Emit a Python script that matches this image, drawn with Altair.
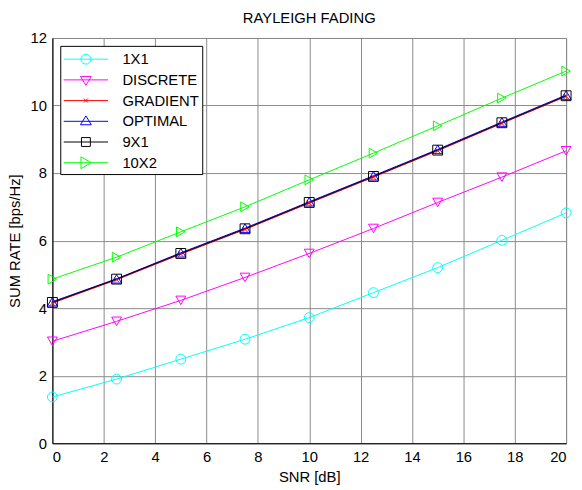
import math
import altair as alt
import pandas as pd

snr = [0, 2.5, 5, 7.5, 10, 12.5, 15, 17.5, 20]
series = ["1X1", "DISCRETE", "GRADIENT", "OPTIMAL", "9X1", "10X2"]
colors = ["#00FFFF", "#FF00FF", "#FF0000", "#0000FF", "#000000", "#00FF00"]

rate_1x1 = [1.37, 1.90, 2.49, 3.08, 3.72, 4.46, 5.20, 6.01, 6.82]
rate_discrete = [3.02, 3.61, 4.23, 4.91, 5.62, 6.36, 7.13, 7.88, 8.66]
rate_gradient = [4.15, 4.84, 5.60, 6.33, 7.11, 7.88, 8.66, 9.47, 10.27]
rate_optimal = [4.19, 4.87, 5.64, 6.37, 7.15, 7.92, 8.70, 9.51, 10.31]
rate_9x1 = [4.17, 4.86, 5.62, 6.35, 7.13, 7.90, 8.68, 9.49, 10.29]
rate_10x2 = [4.86, 5.51, 6.26, 7.00, 7.80, 8.59, 9.40, 10.22, 11.02]

values = [rate_1x1, rate_discrete, rate_gradient, rate_optimal, rate_9x1, rate_10x2]
rows = []
for i, (name, vals) in enumerate(zip(series, values)):
    for x, v in zip(snr, vals):
        rows.append({"snr": x, "rate": v, "series": name, "order": i})
df = pd.DataFrame(rows)

# plot markers, one per series
plot_shapes = ["circle", "triangle-down", "M-0.5,-0.5L0.5,0.5M-0.5,0.5L0.5,-0.5",
               "triangle-up", "square", "triangle-right"]
# legend symbols: line with marker (unit = 10px at size 400), marker centred at cx
cx = 1.25
line = "M-1,0L3.5,0"
circ_pts = [(cx + 0.5 * math.cos(2 * math.pi * k / 16), 0.5 * math.sin(2 * math.pi * k / 16))
            for k in range(16)]
circle_path = "M" + "L".join(f"{a:.3f},{b:.3f}" for a, b in circ_pts) + "Z"


def poly(pts):
    return "M" + "L".join(f"{cx + a:.3f},{b:.3f}" for a, b in pts) + "Z"


legend_shapes = [
    line + circle_path,
    line + poly([(-0.55, -0.35), (0.55, -0.35), (0, 0.55)]),
    line + f"M{cx-0.2:.2f},-0.2L{cx+0.2:.2f},0.2M{cx-0.2:.2f},0.2L{cx+0.2:.2f},-0.2",
    line + poly([(-0.55, 0.35), (0.55, 0.35), (0, -0.55)]),
    line + poly([(-0.45, -0.45), (0.45, -0.45), (0.45, 0.45), (-0.45, 0.45)]),
    line + poly([(-0.5, -0.6), (-0.5, 0.6), (0.55, 0)]),
]

x_enc = alt.X("snr:Q", title="SNR [dB]",
              scale=alt.Scale(domain=[0, 20], nice=False),
              axis=alt.Axis(values=list(range(0, 21, 2)), format="d"))
y_enc = alt.Y("rate:Q", title="SUM RATE [bps/Hz]",
              scale=alt.Scale(domain=[0, 12], nice=False),
              axis=alt.Axis(values=list(range(0, 13, 2)), format="d"))
leg = alt.Legend(title=None, orient="top-left", labelAlign="left")
color_enc = alt.Color("series:N", scale=alt.Scale(domain=series, range=colors), legend=leg)

base = alt.Chart(df)

layers = [
    base.mark_line(strokeWidth=1, clip=True).encode(
        x=x_enc, y=y_enc, color=color_enc, order=alt.Order("snr:Q"),
    )
]
for name, shp in zip(series, plot_shapes):
    layers.append(
        base.transform_filter(alt.datum.series == name)
        .mark_point(filled=False, size=100, strokeWidth=1, opacity=1, shape=shp)
        .encode(x=x_enc, y=y_enc, color=color_enc)
    )

layers.append(
    base.transform_filter("false").mark_point(filled=False, size=400, strokeWidth=1).encode(
        x=x_enc, y=y_enc, color=color_enc,
        shape=alt.Shape("series:N", scale=alt.Scale(domain=series, range=legend_shapes),
                        legend=leg),
    )
)

chart = alt.layer(*layers).properties(
    width=521, height=411,
    title=alt.TitleParams("RAYLEIGH FADING", fontSize=15, fontWeight="normal",
                          font="Liberation Sans", offset=5),
    autosize=alt.AutoSizeParams(type="none"),
    padding={"left": 45, "top": 27, "right": 8, "bottom": 44},
).configure(
    font="Liberation Sans",
).configure_view(
    stroke="#8a8a8a", strokeWidth=1,
).configure_axis(
    domainColor="#000000", domainWidth=1,
    gridColor="#8a8a8a", gridOpacity=1, gridWidth=1,
    ticks=False,
    labelFont="Liberation Sans", labelFontSize=15, labelColor="#000000",
    titleFont="Liberation Sans", titleFontSize=15, titleFontWeight="normal",
    titleColor="#000000",
).configure_axisX(
    labelPadding=7, titlePadding=5,
).configure_axisY(
    labelPadding=6, titlePadding=8,
).configure_legend(
    strokeColor="#000000", fillColor="#FFFFFF", padding=3,
    offset=8, symbolStrokeWidth=1, symbolSize=400,
    labelFont="Liberation Sans", labelFontSize=15, labelColor="#000000",
    labelAlign="left",
    labelOffset=39, rowPadding=2, symbolFillColor="transparent",
    cornerRadius=0,
)

chart.save("out.html", embed_options={"renderer": "svg", "actions": False})
